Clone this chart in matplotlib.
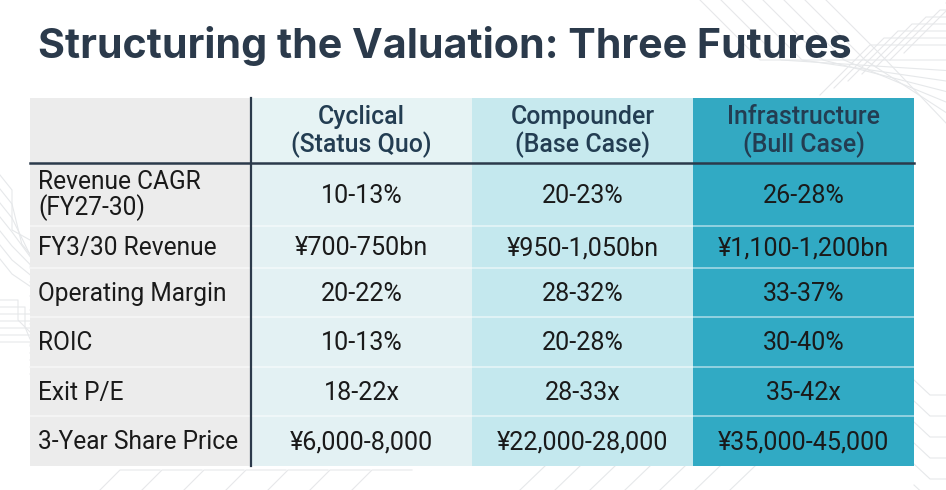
"""Valuation scenarios table: three futures."""

import matplotlib
matplotlib.use("Agg")
import matplotlib.pyplot as plt
from matplotlib.patches import Rectangle

plt.rcParams["font.family"] = ["Roboto", "DejaVu Sans"]

TITLE = "Structuring the Valuation: Three Futures"
scenarios = ["Cyclical\n(Status Quo)", "Compounder\n(Base Case)", "Infrastructure\n(Bull Case)"]
metrics = [
    "Revenue CAGR\n(FY27-30)",
    "FY3/30 Revenue",
    "Operating Margin",
    "ROIC",
    "Exit P/E",
    "3-Year Share Price",
]
cyclical = ["10-13%", "¥700-750bn", "20-22%", "10-13%", "18-22x", "¥6,000-8,000"]
compounder = ["20-23%", "¥950-1,050bn", "28-32%", "20-28%", "28-33x", "¥22,000-28,000"]
infrastructure = ["26-28%", "¥1,100-1,200bn", "33-37%", "30-40%", "35-42x", "¥35,000-45,000"]

# layout in pixels (figure is 946 x 490)
W, H = 946, 490
col_edges = [30, 251, 472, 693, 914]
row_edges = [98, 163, 226, 268, 317, 367, 416, 466]
DARK = "#2b3a4b"
HEAD_TXT = "#233d52"
BODY_TXT = "#1a1a1a"
label_bg = "#ececec"
col_bg = ["#e3f1f3", "#c4e8ee", "#31aac4"]
head_bg = ["#e6f3f4", "#c7e9ee", "#33a9c2"]

fig = plt.figure(figsize=(W / 100, H / 100), dpi=100)
ax = fig.add_axes([0, 0, 1, 1])
ax.set_xlim(0, W)
ax.set_ylim(H, 0)
ax.axis("off")


def fit_size(text, target_px, **kw):
    """Font size (pt) that makes `text` about target_px wide."""
    probe = ax.text(0, 0, text, fontsize=20, **kw)
    w = probe.get_window_extent(renderer=fig.canvas.get_renderer()).width
    probe.remove()
    return 20 * target_px / w


# faint circuit-board background lines
bg_kw = dict(color="#e6e8ea", lw=0.8, zorder=0)
for k in range(7):
    d = k * 7
    ax.plot([0, 18 + d, 18 + d, 30], [300 + d, 300 + d, 320 + d, 332 + d], **bg_kw)
    ax.plot([0, 12, 12 + d * 1.4, 30], [175 + d * 2, 190 + d * 2, 230 + d * 2, 240 + d * 2], **bg_kw)
    ax.plot([820 + d * 2, 870 + d * 2, 946], [95 - d, 45 - d, 45 - d], **bg_kw)
    ax.plot([700 + d * 3, 760 + d * 3, 946], [0, 60, 60 + d * 1.5], **bg_kw)
    ax.plot([914, 930, 946], [380 + d * 3, 395 + d * 3, 395 + d * 3], **bg_kw)
    ax.plot([100 + d * 6, 120 + d * 6, 160 + d * 6], [490, 470, 470], **bg_kw)
    ax.plot([520 + d * 5, 545 + d * 5], [490, 466], **bg_kw)

# cell backgrounds
columns = [cyclical, compounder, infrastructure]
ax.add_patch(Rectangle((col_edges[0], row_edges[0]), col_edges[1] - col_edges[0],
                       row_edges[-1] - row_edges[0], fc=label_bg, ec="none", zorder=1))
for j in range(3):
    x0, x1 = col_edges[j + 1], col_edges[j + 2]
    ax.add_patch(Rectangle((x0, row_edges[0]), x1 - x0, row_edges[1] - row_edges[0],
                           fc=head_bg[j], ec="none", zorder=1))
    ax.add_patch(Rectangle((x0, row_edges[1]), x1 - x0, row_edges[-1] - row_edges[1],
                           fc=col_bg[j], ec="none", zorder=1))

# thin row separators
for y in row_edges[2:-1]:
    ax.plot([col_edges[0], col_edges[-1]], [y, y], color="white", alpha=0.55, lw=1.2, zorder=2)

# dark header rule and first-column rule
ax.plot([col_edges[0], col_edges[-1]], [row_edges[1], row_edges[1]], color=DARK, lw=1.8, zorder=3)
ax.plot([col_edges[1], col_edges[1]], [row_edges[0], row_edges[-1]], color=DARK, lw=1.6, zorder=3)

# title, fitted to its width in the reference
fig.canvas.draw()
title_fs = fit_size(TITLE, 853 - 38, fontweight="bold", family=["Inter", "DejaVu Sans"])
ax.text(38, 58, TITLE, fontsize=title_fs, fontweight="bold", color=DARK,
        family=["Inter", "DejaVu Sans"], ha="left", va="baseline", zorder=4)

# reference glyphs are a bit narrower than Roboto, so go slightly past the width fit
head_fs = fit_size("Infrastructure", 146, fontweight="medium") * 1.05
label_fs = fit_size("3-Year Share Price", 192) * 1.04
value_fs = fit_size("¥1,100-1,200bn", 161) * 1.06

# header labels
for j, name in enumerate(scenarios):
    xc = (col_edges[j + 1] + col_edges[j + 2]) / 2
    yc = (row_edges[0] + row_edges[1]) / 2
    ax.text(xc, yc + 1, name, fontsize=head_fs, fontweight="medium", color=HEAD_TXT,
            ha="center", va="center", linespacing=1.12, zorder=4)

# body
for i, label in enumerate(metrics):
    yc = (row_edges[i + 1] + row_edges[i + 2]) / 2
    ax.text(38, yc + 1, label, fontsize=label_fs, color=BODY_TXT, ha="left", va="center",
            linespacing=1.0, zorder=4)
    for j, col in enumerate(columns):
        xc = (col_edges[j + 1] + col_edges[j + 2]) / 2
        ax.text(xc, yc + 1, col[i], fontsize=value_fs, color=BODY_TXT, ha="center",
                va="center", zorder=4)

fig.savefig("out.png", dpi=100, facecolor="white")
